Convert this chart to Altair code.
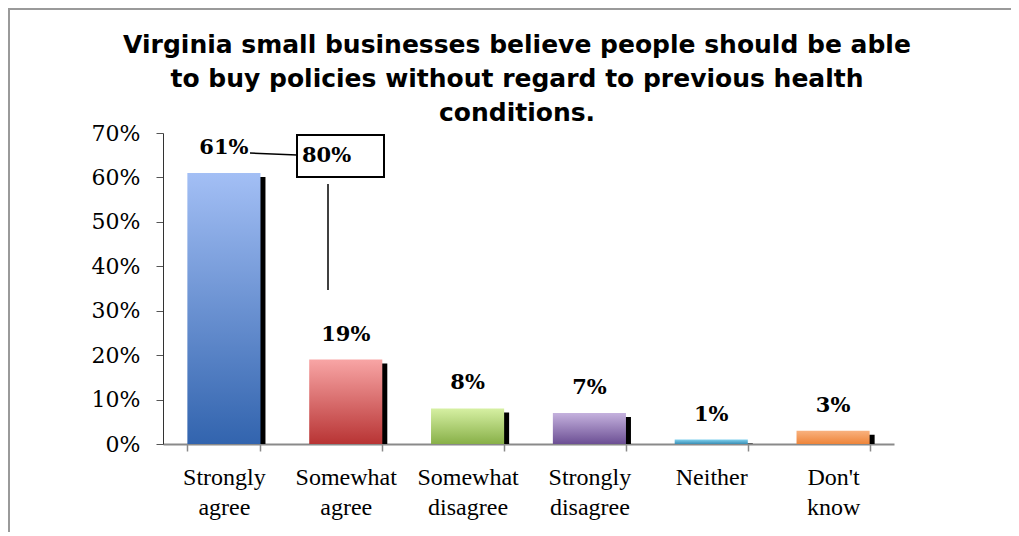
import altair as alt
import pandas as pd

# ---- data ----
categories = ["Strongly agree", "Somewhat agree", "Somewhat disagree",
              "Strongly disagree", "Neither", "Don't know"]
shares = [0.61, 0.19, 0.08, 0.07, 0.01, 0.03]
y_ticks = [0, 0.1, 0.2, 0.3, 0.4, 0.5, 0.6, 0.7]
title_lines = ["Virginia small businesses believe people should be able",
               "to buy policies without regard to previous health",
               "conditions."]
callout_text = "80%"

# ---- styles ----
top_colors = ["#a3bff5", "#f8a5a5", "#d6f0a3", "#c5b2de", "#7fd0ee", "#f9b27f"]
bottom_colors = ["#3264ae", "#b83434", "#88b048", "#6c4f94", "#3a8fb5", "#ee853a"]
SHADOW_DROP = 0.009  # shadow top sits slightly below the bar top (in data units)

df = pd.DataFrame({"cat": categories, "share": shares})

W, H = 731, 311

xs = alt.X("cat:N", sort=categories, title=None,
           scale=alt.Scale(paddingInner=0.4, paddingOuter=0.2),
           axis=alt.Axis(labelExpr="split(datum.label, ' ')", labelAngle=0,
                         labelFont="Liberation Serif", labelFontSize=24,
                         labelLineHeight=30, labelColor="black",
                         labelPadding=14, tickSize=7, tickBand="extent",
                         domainColor="#8a8a8a", domainWidth=2,
                         tickColor="#8a8a8a", tickWidth=1.5))
yscale = alt.Scale(domain=[0, 0.7], nice=False)
ys = alt.Y("share:Q", title=None, scale=yscale,
           axis=alt.Axis(values=y_ticks, format=".0%", grid=False,
                         labelFont="DejaVu Serif", labelFontSize=22,
                         labelColor="black", labelPadding=16, tickSize=7,
                         domainColor="#333333", tickColor="#555555"))

base = alt.Chart(df)

shadow = base.transform_calculate(
    shadow_top=f"max(0, datum.share - {SHADOW_DROP})"
).mark_bar(color="black", xOffset=5).encode(
    x=xs, y=alt.Y("shadow_top:Q", scale=yscale), y2=alt.datum(0))

bars = []
for cat, c1, c2 in zip(categories, top_colors, bottom_colors):
    grad = alt.Gradient(gradient="linear", x1=0, x2=0, y1=0, y2=1,
                        stops=[alt.GradientStop(color=c1, offset=0),
                               alt.GradientStop(color=c2, offset=1)])
    bars.append(base.transform_filter(alt.datum.cat == cat)
                .mark_bar(color=grad).encode(x=xs, y=ys))

labels = base.mark_text(font="DejaVu Serif", fontWeight="bold", fontSize=21,
                        dy=-25, baseline="middle", color="black").encode(
    x=xs, y=ys, text=alt.Text("share:Q", format=".0%"))

one = alt.Chart(pd.DataFrame({"a": [0]}))

title = one.mark_text(font="DejaVu Sans", fontWeight="bold", fontSize=25,
                      lineHeight=34, align="center", baseline="alphabetic",
                      color="black").encode(
    x=alt.value(354), y=alt.value(-80), text=alt.value(title_lines))

connector = one.mark_rule(color="black", strokeWidth=1.5).encode(
    x=alt.value(87), x2=alt.value(134), y=alt.value(20), y2=alt.value(22))
box = one.mark_rect(fill="white", stroke="black", strokeWidth=2).encode(
    x=alt.value(134), x2=alt.value(221), y=alt.value(2), y2=alt.value(44))
box_text = one.mark_text(font="DejaVu Serif", fontWeight="bold", fontSize=21,
                         align="left", baseline="middle", color="black").encode(
    x=alt.value(139), y=alt.value(23), text=alt.value(callout_text))
vline = one.mark_rule(color="black", strokeWidth=1.5).encode(
    x=alt.value(165), y=alt.value(51), y2=alt.value(157))

border_top = one.mark_rule(color="#9a9a9a", strokeWidth=2).encode(
    x=alt.value(-155), x2=alt.value(W + 120), y=alt.value(-124))
border_left = one.mark_rule(color="#9a9a9a", strokeWidth=2).encode(
    x=alt.value(-154), y=alt.value(-125), y2=alt.value(H + 90))

chart = alt.layer(
    border_top, border_left, shadow, *bars, labels, title,
    connector, box, box_text, vline
).properties(
    width=W, height=H,
    padding={"left": 155, "top": 125, "right": 117, "bottom": 88},
    autosize=alt.AutoSizeParams(type="none"),
    background="white",
).configure_view(stroke=None)

chart.save("out.html", embed_options={"renderer": "svg", "actions": False})
